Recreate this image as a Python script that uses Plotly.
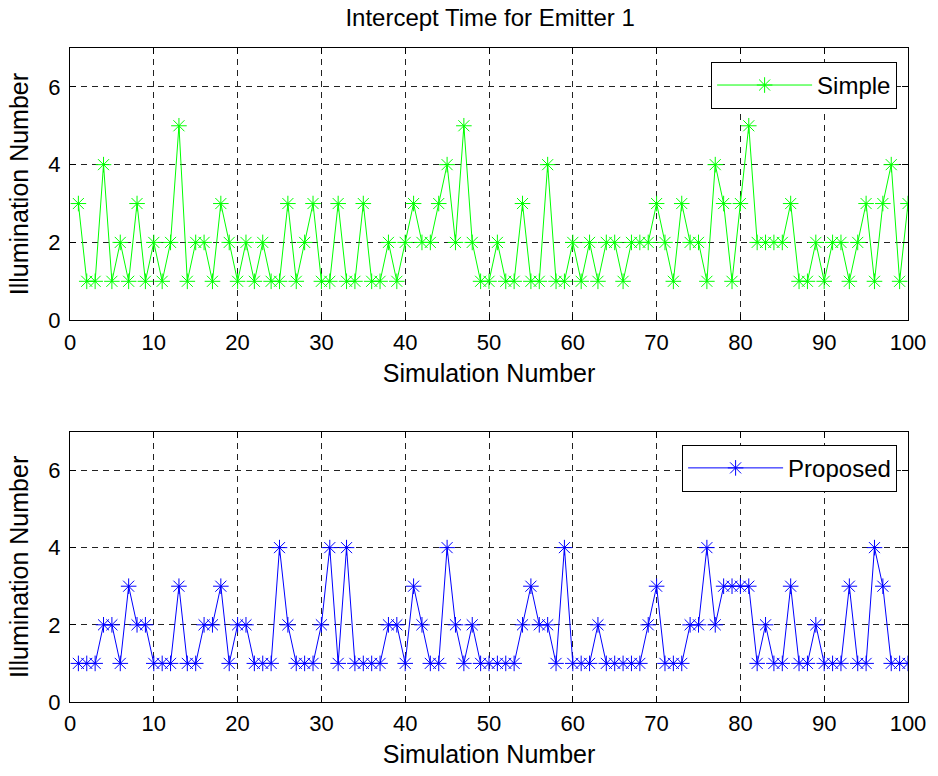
import plotly.graph_objects as go

# Simulation runs and illumination counts for the two schedulers
simulation = list(range(1, 101))

simple = [3, 1, 1, 4, 1, 2, 1, 3, 1, 2,
          1, 2, 5, 1, 2, 2, 1, 3, 2, 1,
          2, 1, 2, 1, 1, 3, 1, 2, 3, 1,
          1, 3, 1, 1, 3, 1, 1, 2, 1, 2,
          3, 2, 2, 3, 4, 2, 5, 2, 1, 1,
          2, 1, 1, 3, 1, 1, 4, 1, 1, 2,
          1, 2, 1, 2, 2, 1, 2, 2, 2, 3,
          2, 1, 3, 2, 2, 1, 4, 3, 1, 3,
          5, 2, 2, 2, 2, 3, 1, 1, 2, 1,
          2, 2, 1, 2, 3, 1, 3, 4, 1, 3]

proposed = [1, 1, 1, 2, 2, 1, 3, 2, 2, 1,
            1, 1, 3, 1, 1, 2, 2, 3, 1, 2,
            2, 1, 1, 1, 4, 2, 1, 1, 1, 2,
            4, 1, 4, 1, 1, 1, 1, 2, 2, 1,
            3, 2, 1, 1, 4, 2, 1, 2, 1, 1,
            1, 1, 1, 2, 3, 2, 2, 1, 4, 1,
            1, 1, 2, 1, 1, 1, 1, 1, 2, 3,
            1, 1, 1, 2, 2, 4, 2, 3, 3, 3,
            3, 1, 2, 1, 1, 3, 1, 1, 2, 1,
            1, 1, 3, 1, 1, 4, 3, 1, 1, 1]

x_ticks = list(range(0, 101, 10))
y_ticks = [0, 2, 4, 6]

FONT = "Liberation Sans, Arial, sans-serif"
GREEN = "rgb(0,255,0)"
BLUE = "rgb(0,0,255)"

fig = go.Figure()

fig.add_trace(go.Scatter(
    x=simulation, y=simple, name="Simple", mode="lines+markers",
    line=dict(color=GREEN, width=1),
    marker=dict(symbol="asterisk-open", size=13, color=GREEN,
                line=dict(color=GREEN, width=1)),
    xaxis="x", yaxis="y", legend="legend",
))
fig.add_trace(go.Scatter(
    x=simulation, y=proposed, name="Proposed", mode="lines+markers",
    line=dict(color=BLUE, width=1),
    marker=dict(symbol="asterisk-open", size=13, color=BLUE,
                line=dict(color=BLUE, width=1)),
    xaxis="x2", yaxis="y2", legend="legend2",
))

common_x = dict(
    range=[0, 100], tickvals=x_ticks, ticks="inside", ticklen=6,
    tickcolor="black", showline=True, linecolor="black", linewidth=1,
    mirror="ticks", showgrid=True, gridcolor="#222", gridwidth=1,
    griddash="6px,5px", zeroline=False,
    tickfont=dict(family=FONT, size=22, color="black"),
    title=dict(text="Simulation Number", standoff=10,
               font=dict(family=FONT, size=25, color="black")),
    ticklabelstandoff=2,
)
common_y = dict(
    range=[0, 7], tickvals=y_ticks, ticks="inside", ticklen=6,
    tickcolor="black", showline=True, linecolor="black", linewidth=1,
    mirror="ticks", showgrid=True, gridcolor="#222", gridwidth=1,
    griddash="6px,5px", zeroline=False,
    tickfont=dict(family=FONT, size=22, color="black"),
    title=dict(text="Illumination Number", standoff=12,
               font=dict(family=FONT, size=25, color="black")),
    ticklabelstandoff=4,
)

legend_common = dict(
    xanchor="right", yanchor="top", x=0.987,
    bgcolor="white", bordercolor="black", borderwidth=1,
    font=dict(family=FONT, size=24, color="black"),
    itemwidth=95,
)

fig.update_layout(
    width=938, height=776,
    margin=dict(l=70, r=28, t=48, b=72),
    paper_bgcolor="white", plot_bgcolor="white",
    title=dict(text="Intercept Time for Emitter 1", x=0.5225, xanchor="center",
               y=1 - 18 / 776, yanchor="middle", yref="container",
               font=dict(family=FONT, size=24, color="black")),
    xaxis=dict(domain=[0, 1], anchor="y", **common_x),
    yaxis=dict(domain=[0.5838, 1], anchor="x", **common_y),
    xaxis2=dict(domain=[0, 1], anchor="y2", **common_x),
    yaxis2=dict(domain=[0, 0.4131], anchor="x2", **common_y),
    legend=dict(y=0.9787, **legend_common),
    legend2=dict(y=0.3933, **legend_common),
    showlegend=True,
)

fig.write_html("out.html")
